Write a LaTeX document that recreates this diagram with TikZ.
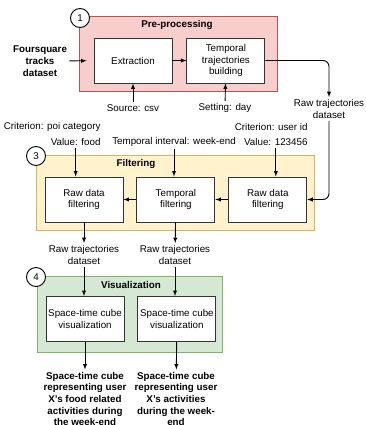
\documentclass[tikz,border=0pt]{standalone}
\usepackage{fontspec}
\setmainfont{Liberation Sans}
\usepackage{tikz}
\usetikzlibrary{arrows,positioning}
\usepackage{xcolor}
\definecolor{prefill}{HTML}{F8CECC}
\definecolor{preline}{HTML}{B85450}
\definecolor{filtfill}{HTML}{FFF2CC}
\definecolor{filtline}{HTML}{D6B656}
\definecolor{visfill}{HTML}{D5E8D4}
\definecolor{visline}{HTML}{82B366}

\begin{document}
\begin{tikzpicture} [
      x = 1pt, y = -1pt,
      line width = 0.9pt,
      every node/.style = {font = \fontsize{9.8}{11.7}\selectfont, align = center, inner sep = 2pt},
      title/.style = {font = \fontsize{9.8}{11.7}\selectfont\bfseries},
      group/.style = {draw = #1line, fill = #1fill, minimum height = 75pt},
      box/.style = {draw = black!80, fill = white, minimum width = 78pt, minimum height = 45pt},
      num/.style = {draw, circle, fill = white, inner sep = 0, minimum size = 19pt},
      arr/.style = {-latex}
      ]
  \useasboundingbox (0,0) rectangle (365,425);

  % pre-processing
  \node [group = pre, minimum width = 198pt] (pre) at (178,53.5) {};
  \node [num] (n1) at (80,18) {1};
  \node [title] (pretitle) at (177,25) {Pre-processing};
  \node [box] (extr) at (133,60.5) {Extraction};
  \node [box, right = 14pt of extr] (build) {Temporal\\trajectories\\building};
  \node [title] (fsq) at (40,61) {Foursquare\\tracks\\dataset};
  \node (src) at (133,108) {Source: csv};
  \node (set) at (225,108) {Setting: day};
  \node (raw1) at (329,109) {Raw trajectories\\dataset};

  % filtering
  \node [anchor = east] (crit1) at (103,127) {Criterion: poi category};
  \node [anchor = east] (val1) at (103,142) {Value: food};
  \node (tint) at (174,142) {Temporal interval: week-end};
  \node [anchor = east] (crit3) at (310,127) {Criterion: user id};
  \node [anchor = east] (val3) at (310,142) {Value: 123456};
  \node [group = filt, minimum width = 278pt] (filt) at (175,192.5) {};
  \node [num] (n3) at (36,156) {3};
  \node [title] (filttitle) at (136,164) {Filtering};
  \node [box] (rawfA) at (84,199.5) {Raw data\\filtering};
  \node [box, right = 13pt of rawfA] (tempf) {Temporal\\filtering};
  \node [box, right = 13pt of tempf] (rawfB) {Raw data\\filtering};
  \node (rawA) at (84,255) {Raw trajectories\\dataset};
  \node (rawB) at (175,255) {Raw trajectories\\dataset};

  % visualization
  \node [group = vis, minimum width = 185pt, minimum height = 76pt] (vis) at (129.5,314) {};
  \node [num] (n4) at (36,277) {4};
  \node [title] (vistitle) at (131,285) {Visualization};
  \node [box] (stcA) at (85,319) {Space-time cube\\visualization};
  \node [box, right = 13pt of stcA] (stcB) {Space-time cube\\visualization};
  \node [title] (resA) at (85,399) {Space-time cube\\representing user\\X's food related\\activities during\\the week-end};
  \node [title] (resB) at (176,399) {Space-time cube\\representing user\\X's activities\\during the week-\\end};

  \draw [arr, shorten >= 7pt] (fsq) -- (extr);
  \draw [arr] (extr) -- (build);
  \draw [arr] (src) -- (extr);
  \draw [arr] (set) -- (build);
  \draw [arr, rounded corners = 6pt] (build.east) -| (raw1.north);
  \draw [arr, rounded corners = 6pt] (raw1.south) |- (rawfB.east);
  \draw [arr] (val1.south) -- (val1.south |- rawfA.north);
  \draw [arr] (tint) -- (tint |- tempf.north);
  \draw [arr] (val3.south) -- (val3.south |- rawfB.north);
  \draw [arr] (rawfB) -- (tempf);
  \draw [arr] (tempf) -- (rawfA);
  \draw [arr] (rawfA) -- (rawA);
  \draw [arr] (tempf) -- (rawB);
  \draw [arr] (rawA.south) -- (rawA.south |- stcA.north);
  \draw [arr] (rawB.south) -- (rawB.south |- stcB.north);
  \draw [arr] (stcA) -- (resA);
  \draw [arr] (stcB) -- (resB);
\end{tikzpicture}
\end{document}
